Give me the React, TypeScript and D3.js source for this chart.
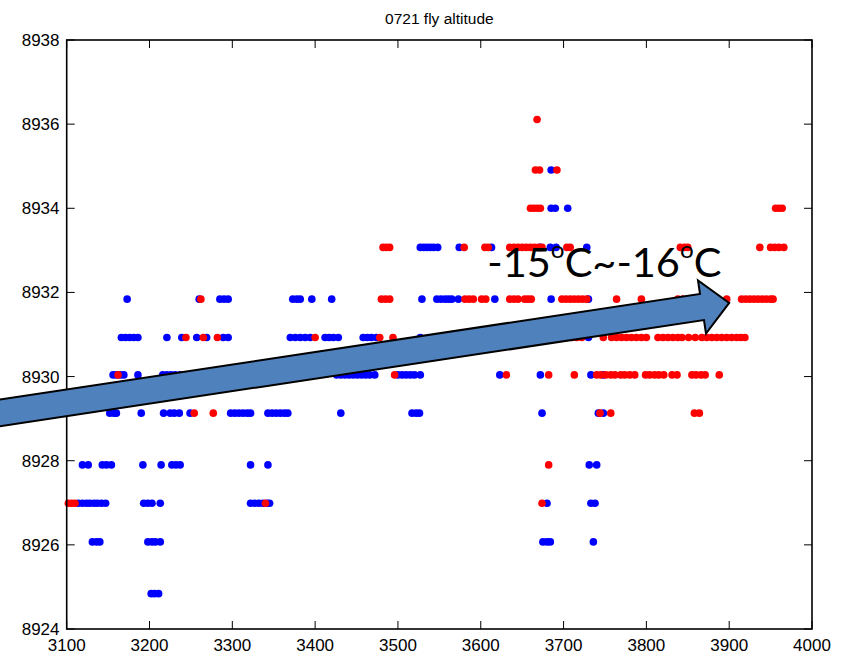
import React from 'react';
import * as d3 from 'd3';

const WIDTH = 847;
const HEIGHT = 663;
const PLOT = { left: 66.7, right: 812, top: 40, bottom: 629 };

const xDomain = [3100, 4000];
const yDomain = [8924, 8938];
const xTicks = [3100, 3200, 3300, 3400, 3500, 3600, 3700, 3800, 3900, 4000];
const yTicks = [8924, 8926, 8928, 8930, 8932, 8934, 8936, 8938];

const titleText = '0721 fly altitude';

// Quantised altitude steps reported by the flight log
const altitudeLevels = [
  8924.84, 8926.07, 8926.99, 8927.9, 8929.13, 8930.04,
  8930.93, 8931.84, 8933.07, 8934.0, 8934.91, 8936.11,
];

// Distance samples (x) recorded at each altitude step, one list per level
const blueRuns: number[][] = [
  [3202, 3206, 3211],
  [3131, 3136, 3140, 3198, 3203, 3207, 3213, 3675, 3680, 3684, 3736],
  [3114, 3119, 3124, 3128, 3133, 3137, 3142, 3147, 3193, 3198, 3203, 3213, 3322, 3327, 3332, 3337, 3342, 3345, 3680, 3733, 3738],
  [3119, 3126, 3143, 3148, 3154, 3192, 3214, 3227, 3232, 3237, 3322, 3343, 3731, 3740],
  [3152, 3157, 3160, 3190, 3217, 3225, 3230, 3236, 3249, 3298, 3303, 3308, 3313, 3318, 3322, 3343, 3348, 3353, 3358, 3363, 3367, 3431, 3517, 3522, 3526, 3674, 3742, 3748],
  [3156, 3160, 3165, 3169, 3186, 3216, 3221, 3226, 3231, 3237, 3426, 3431, 3436, 3441, 3446, 3451, 3456, 3461, 3466, 3472, 3500, 3505, 3510, 3515, 3520, 3527, 3623, 3672, 3733, 3748],
  [3166, 3171, 3176, 3181, 3186, 3221, 3239, 3257, 3269, 3289, 3295, 3370, 3376, 3382, 3388, 3394, 3412, 3417, 3422, 3428, 3458, 3463, 3468, 3474, 3527, 3730],
  [3173, 3260, 3285, 3290, 3295, 3373, 3378, 3382, 3396, 3420, 3529, 3547, 3552, 3557, 3561, 3565, 3573, 3617, 3685, 3730],
  [3527, 3531, 3535, 3539, 3543, 3548, 3574, 3613, 3672, 3684, 3691, 3728],
  [3685, 3690, 3705],
  [3685],
  [],
];

const redRuns: number[][] = [
  [],
  [],
  [3102, 3106, 3110, 3340, 3674],
  [3682],
  [3254, 3277, 3744, 3757, 3858, 3864],
  [3162, 3496, 3631, 3682, 3713, 3740, 3745, 3751, 3757, 3762, 3769, 3774, 3780, 3786, 3799, 3804, 3810, 3815, 3821, 3831, 3837, 3855, 3860, 3866, 3871, 3888],
  [3244, 3265, 3282, 3400, 3478, 3494, 3698, 3704, 3710, 3716, 3722, 3748, 3758, 3764, 3770, 3776, 3782, 3788, 3794, 3800, 3814, 3820, 3826, 3832, 3838, 3843, 3851, 3859, 3867, 3873, 3879, 3885, 3891, 3897, 3903, 3909, 3914, 3919],
  [3262, 3480, 3485, 3490, 3581, 3586, 3591, 3601, 3606, 3635, 3640, 3645, 3653, 3657, 3661, 3698, 3703, 3708, 3713, 3718, 3723, 3728, 3764, 3794, 3838, 3844, 3897, 3915, 3920, 3925, 3930, 3935, 3940, 3945, 3950, 3953],
  [3482, 3486, 3490, 3580, 3605, 3609, 3635, 3640, 3645, 3650, 3655, 3660, 3665, 3670, 3674, 3704, 3708, 3841, 3846, 3850, 3937, 3950, 3955, 3960, 3966],
  [3660, 3664, 3668, 3672, 3956, 3960, 3964],
  [3666, 3671, 3692],
  [3668],
];

// Trend annotation, anchored in data units
const arrowTail = { x: 3010, y: 8929.11 };
const arrowTip = { x: 3900, y: 8931.75 };
const noteAnchor = { x: 3608, y: 8932.37 };

type Pt = { x: number; y: number };

function toPoints(runs: number[][]): Pt[] {
  return runs.flatMap((xs, i) => xs.map((x) => ({ x, y: altitudeLevels[i] })));
}

export default function App() {
  const x = d3.scaleLinear().domain(xDomain).range([PLOT.left, PLOT.right]);
  const y = d3.scaleLinear().domain(yDomain).range([PLOT.bottom, PLOT.top]);

  const bluePts = toPoints(blueRuns);
  const redPts = toPoints(redRuns);

  // Block arrow geometry in pixel space
  const t0: [number, number] = [x(arrowTail.x), y(arrowTail.y)];
  const t1: [number, number] = [x(arrowTip.x), y(arrowTip.y)];
  const dx = t1[0] - t0[0];
  const dy = t1[1] - t0[1];
  const len = Math.hypot(dx, dy);
  const ux = dx / len;
  const uy = dy / len;
  const nx = -uy;
  const ny = ux;
  const shaftHalf = 13.2;
  const headHalf = 26.8;
  const headLen = 27.5;
  const bx = t1[0] - ux * headLen;
  const by = t1[1] - uy * headLen;
  const arrowPts: [number, number][] = [
    [t0[0] + nx * shaftHalf, t0[1] + ny * shaftHalf],
    [bx + nx * shaftHalf, by + ny * shaftHalf],
    [bx + nx * headHalf, by + ny * headHalf],
    t1,
    [bx - nx * headHalf, by - ny * headHalf],
    [bx - nx * shaftHalf, by - ny * shaftHalf],
    [t0[0] - nx * shaftHalf, t0[1] - ny * shaftHalf],
  ];
  const arrowPath = d3.line()(arrowPts) + 'Z';

  const tickLen = 8;
  const axisFont = 'Liberation Sans, Arial, sans-serif';
  const r = 3.8;

  return (
    <svg
      width={WIDTH}
      height={HEIGHT}
      style={{ position: 'absolute', left: 0, top: 0, background: '#fff' }}
    >
      <rect x={0} y={0} width={WIDTH} height={HEIGHT} fill="#fff" />
      <text
        x={(PLOT.left + PLOT.right) / 2}
        y={24}
        textAnchor="middle"
        fontFamily={axisFont}
        fontSize={15.5}
        fill="#000"
      >
        {titleText}
      </text>

      <g>
        {bluePts.map((p, i) => (
          <circle key={'b' + i} cx={x(p.x)} cy={y(p.y)} r={r} fill="#0000ff" />
        ))}
        {redPts.map((p, i) => (
          <circle key={'r' + i} cx={x(p.x)} cy={y(p.y)} r={r} fill="#ff0000" />
        ))}
      </g>

      {/* axes box with inward ticks on all four sides */}
      <g stroke="#000" strokeWidth={1}>
        {xTicks.map((t) => (
          <g key={'xt' + t}>
            <line x1={x(t)} x2={x(t)} y1={PLOT.bottom} y2={PLOT.bottom - tickLen} />
            <line x1={x(t)} x2={x(t)} y1={PLOT.top} y2={PLOT.top + tickLen} />
          </g>
        ))}
        {yTicks.map((t) => (
          <g key={'yt' + t}>
            <line x1={PLOT.left} x2={PLOT.left + tickLen} y1={y(t)} y2={y(t)} />
            <line x1={PLOT.right} x2={PLOT.right - tickLen} y1={y(t)} y2={y(t)} />
          </g>
        ))}
      </g>
      <rect
        x={PLOT.left}
        y={PLOT.top}
        width={PLOT.right - PLOT.left}
        height={PLOT.bottom - PLOT.top}
        fill="none"
        stroke="#000"
        strokeWidth={1.6}
      />

      <g fontFamily={axisFont} fontSize={17} fill="#000">
        {xTicks.map((t) => (
          <text key={'xl' + t} x={x(t)} y={651} textAnchor="middle">
            {t}
          </text>
        ))}
        {yTicks.map((t) => (
          <text key={'yl' + t} x={59.5} y={y(t) + 6} textAnchor="end">
            {t}
          </text>
        ))}
      </g>

      <path d={arrowPath} fill="#4f81bd" stroke="#000" strokeWidth={2} strokeLinejoin="miter" />

      <text
        x={x(noteAnchor.x)}
        y={y(noteAnchor.y)}
        fontFamily="Lato, 'Open Sans', sans-serif"
        fontSize={41}
        fill="#000"
        textLength={234}
        lengthAdjust="spacingAndGlyphs"
      >
        -15
        <tspan dy={-19} fontSize={24}>o</tspan>
        <tspan dy={19}>C~-16</tspan>
        <tspan dy={-19} fontSize={24}>o</tspan>
        <tspan dy={19}>C</tspan>
      </text>
    </svg>
  );
}
